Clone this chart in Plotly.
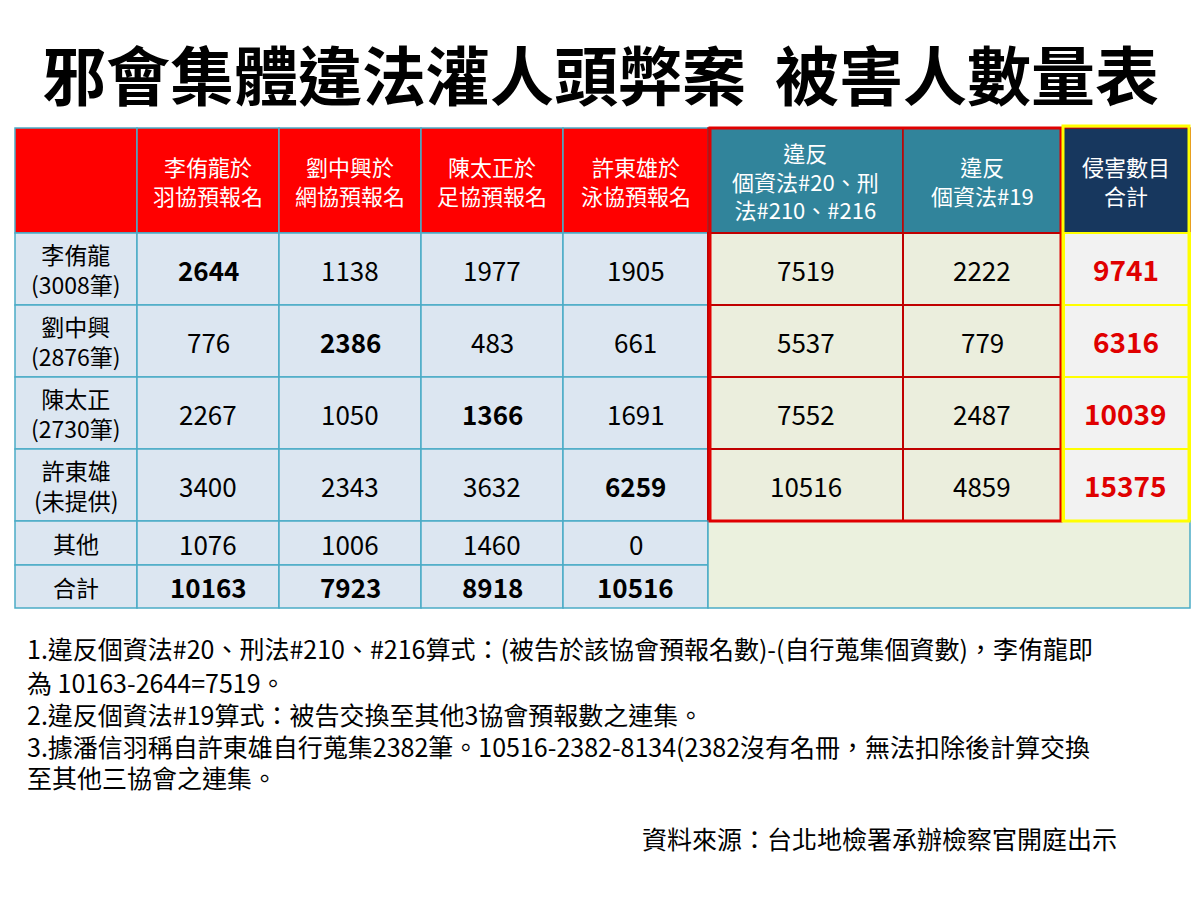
import plotly.graph_objects as go

title = "邪會集體違法灌人頭弊案  被害人數量表"
col_headers = ["", "李侑龍於<br>羽協預報名", "劉中興於<br>網協預報名", "陳太正於<br>足協預報名", "許東雄於<br>泳協預報名",
               "違反<br>個資法#20、刑<br>法#210、#216", "違反<br>個資法#19", "侵害數目<br>合計"]
row_labels = ["李侑龍<br>(3008筆)", "劉中興<br>(2876筆)", "陳太正<br>(2730筆)", "許東雄<br>(未提供)", "其他", "合計"]
badminton = [2644, 776, 2267, 3400, 1076, 10163]
tennis = [1138, 2386, 1050, 2343, 1006, 7923]
football = [1977, 483, 1366, 3632, 1460, 8918]
swimming = [1905, 661, 1691, 6259, 0, 10516]
violation20 = [7519, 5537, 7552, 10516]
violation19 = [2222, 779, 2487, 4859]
total_harm = [9741, 6316, 10039, 15375]
notes = ["1.違反個資法#20、刑法#210、#216算式：(被告於該協會預報名數)-(自行蒐集個資數)，李侑龍即",
         "為 10163-2644=7519。",
         "2.違反個資法#19算式：被告交換至其他3協會預報數之連集。",
         "3.據潘信羽稱自許東雄自行蒐集2382筆。10516-2382-8134(2382沒有名冊，無法扣除後計算交換",
         "至其他三協會之連集。"]
source = "資料來源：台北地檢署承辦檢察官開庭出示"

xs = [15, 137, 279, 421, 563, 708, 903, 1061, 1190]
ys = [128, 233, 305, 377, 449, 521, 565, 608]
FONT = "Noto Sans CJK TC"

fig = go.Figure()
shapes, anns = [], []

def rect(x0, y0, x1, y1, fill, line, w=1.5):
    shapes.append(dict(type="rect", x0=x0, y0=y0, x1=x1, y1=y1, fillcolor=fill,
                       line=dict(color=line, width=w), layer="below"))

def text(x, y, t, size, color="black", bold=False, xanchor="center"):
    if bold:
        t = "<b>" + t + "</b>"
    anns.append(dict(x=x, y=y, text=t, showarrow=False, xanchor=xanchor, yanchor="middle",
                     font=dict(size=size, color=color, family=FONT), align=xanchor if xanchor != "center" else "center"))

hdr_fill = ["#FF0000"] * 5 + ["#31849B", "#31849B", "#17375E"]
for c in range(8):
    rect(xs[c], ys[0], xs[c + 1], ys[1], hdr_fill[c], "#4BACC6" if c < 5 else "#C00000")
    text((xs[c] + xs[c + 1]) / 2, (ys[0] + ys[1]) / 2, col_headers[c], 22, "white")

left_cols = [badminton, tennis, football, swimming]
for r in range(6):
    y0, y1 = ys[r + 1], ys[r + 2]
    cy = (y0 + y1) / 2
    rect(xs[0], y0, xs[1], y1, "#DCE6F1", "#4BACC6")
    text((xs[0] + xs[1]) / 2, cy, row_labels[r], 23)
    for c in range(4):
        rect(xs[c + 1], y0, xs[c + 2], y1, "#DCE6F1", "#4BACC6")
        bold = (r == c) or r == 5
        text((xs[c + 1] + xs[c + 2]) / 2, cy, str(left_cols[c][r]), 26, bold=bold)

for r in range(4):
    y0, y1 = ys[r + 1], ys[r + 2]
    cy = (y0 + y1) / 2
    rect(xs[5], y0, xs[6], y1, "#EBEEDD", "#C00000", 2)
    text((xs[5] + xs[6]) / 2, cy, str(violation20[r]), 26)
    rect(xs[6], y0, xs[7], y1, "#EBEEDD", "#C00000", 2)
    text((xs[6] + xs[7]) / 2, cy, str(violation19[r]), 26)
    rect(xs[7] + 3, y0, xs[8], y1, "#F2F2F2", "#FFFF00", 2)
    text((xs[7] + xs[8]) / 2, cy, str(total_harm[r]), 28, "#E00000", bold=True)

rect(xs[5], ys[5], xs[8], ys[7], "#EBF1DE", "#4BACC6")
shapes.append(dict(type="rect", x0=xs[5] + 2, y0=ys[0], x1=xs[7], y1=ys[5], line=dict(color="#E00000", width=3)))
shapes.append(dict(type="rect", x0=xs[7] + 2, y0=ys[0] - 2, x1=xs[8] - 1, y1=ys[5], line=dict(color="#FFFF00", width=3)))

text(600, 72, title, 64, "black", bold=True)
for n, y in zip(notes, [648, 682, 714, 746, 777]):
    text(25, y, n, 25, xanchor="left")
text(640, 838, source, 25, xanchor="left")

fig.update_layout(width=1200, height=900, margin=dict(l=0, r=0, t=0, b=0),
                  plot_bgcolor="white", paper_bgcolor="white",
                  xaxis=dict(range=[8, 1208], visible=False, fixedrange=True),
                  yaxis=dict(range=[908, 8], visible=False, fixedrange=True),
                  shapes=shapes, annotations=anns, showlegend=False)
fig.write_html("out.html")
